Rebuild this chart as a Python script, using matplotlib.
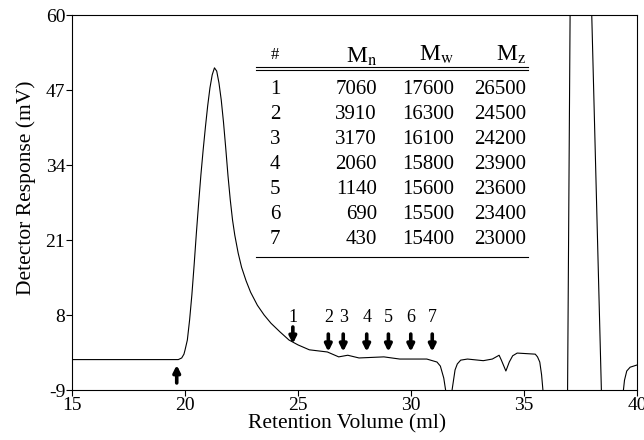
import matplotlib.pyplot as plt
import numpy as np

plt.rcParams['font.family'] = ['Liberation Serif', 'DejaVu Serif']
plt.rcParams['mathtext.fontset'] = 'stix'

# Chromatogramm
vol = [15.0, 19.0, 19.7, 19.85, 19.95, 20.0, 20.1, 20.2, 20.3, 20.4, 20.5, 20.6,
       20.7, 20.8, 20.9, 21.0, 21.1, 21.2, 21.3, 21.4, 21.5, 21.6, 21.7, 21.8,
       21.9, 22.0, 22.1, 22.2, 22.35, 22.5, 22.7, 22.9, 23.2, 23.5, 23.8, 24.2,
       24.6, 25.0, 25.5, 26.3, 26.8, 27.2, 27.7, 28.8, 29.5, 30.7, 31.15, 31.3,
       31.45, 31.55, 31.8, 31.85, 31.95, 32.05, 32.2, 32.5, 33.2, 33.6, 33.9,
       34.0, 34.2, 34.35, 34.5, 34.7, 35.5, 35.6, 35.7, 35.78, 35.85, 36.93,
       37.05, 37.97, 38.43, 39.39, 39.45, 39.55, 39.7, 40.0]
resp = [-3.4, -3.4, -3.4, -3.1, -2.4, -1.6, 0.2, 3.9, 8.5, 14.0, 19.9, 25.4,
        30.6, 35.2, 39.4, 43.3, 46.6, 49.0, 50.3, 49.7, 47.5, 44.4, 40.3, 35.5,
        30.4, 26.0, 22.3, 19.5, 16.2, 13.6, 11.1, 9.0, 6.6, 4.8, 3.3, 1.7,
        0.2, -0.7, -1.6, -2.0, -2.9, -2.6, -3.1, -2.9, -3.3, -3.3, -3.85, -4.6,
        -6.8, -9.5, -9.5, -8.1, -5.3, -4.2, -3.5, -3.3, -3.6, -3.3, -2.6,
        -3.5, -5.5, -3.85, -2.7, -2.2, -2.4, -2.9, -3.85, -6.2, -9.5, -9.5,
        65, 65, -9.5, -9.5, -7.2, -5.5, -4.8, -4.4]

# Fraktionen
frac = ['1', '2', '3', '4', '5', '6', '7']
frac_x = [24.77, 26.34, 27.0, 28.04, 29.0, 29.99, 30.94]
Mn = [7060, 3910, 3170, 2060, 1140, 690, 430]
Mw = [17600, 16300, 16100, 15800, 15600, 15500, 15400]
Mz = [26500, 24500, 24200, 23900, 23600, 23400, 23000]
start_x = 19.63

yticks = np.linspace(-9, 60, 6)
ylabels = ['-9', '8', '21', '34', '47', '60']

fig = plt.figure(figsize=(6.44, 4.40), dpi=100)
ax = fig.add_axes([0.112, 0.1136, 0.877, 0.852])
ax.plot(vol, resp, color='k', lw=0.8)

ax.set_xlim(15, 40)
ax.set_ylim(-9, 60)
ax.set_xticks([15, 20, 25, 30, 35, 40])
ax.set_yticks(yticks)
ax.set_yticklabels(ylabels)
ax.tick_params(labelsize=14, length=4, width=0.8, direction='out', pad=1)
ax.set_xlabel('Retention Volume (ml)', fontsize=15.5)
ax.set_ylabel('Detector Response (mV)', fontsize=15.5)
ax.xaxis.set_label_coords(0.487, -0.064)
ax.yaxis.set_label_coords(-0.064, 0.54)

# Pfeile
ap = dict(arrowstyle='-|>', lw=2.6, color='k', mutation_scale=10, shrinkA=0, shrinkB=0)
for i, (lab, x) in enumerate(zip(frac, frac_x)):
    if i == 0:
        top, tip = 2.6, -0.5
    else:
        top, tip = 1.3, -1.95
    ax.annotate('', xy=(x, tip), xytext=(x, top), arrowprops=ap)
    ax.text(x, 4.4, lab, ha='center', va='center', fontsize=13)
ax.annotate('', xy=(start_x, -4.4), xytext=(start_x, -7.7), arrowprops=ap)

# Tabelle
def px2y(py):
    return -9 + (390 - py) * 69 / 375

def px2x(px):
    return 15 + (px - 72) * 25 / 565

fs = 15
ax.text(px2x(275), px2y(55), '#', ha='center', va='center', fontsize=12)
ax.text(px2x(377), px2y(57), r'M$_{\rm n}$', ha='right', va='center', fontsize=fs + 2)
ax.text(px2x(454), px2y(55), r'M$_{\rm w}$', ha='right', va='center', fontsize=fs + 2)
ax.text(px2x(526), px2y(55), r'M$_{\rm z}$', ha='right', va='center', fontsize=fs + 2)
ax.plot([px2x(256), px2x(528)], [px2y(67), px2y(67)], color='k', lw=0.8)
ax.plot([px2x(256), px2x(528)], [px2y(70), px2y(70)], color='k', lw=0.8)
ax.plot([px2x(256), px2x(528)], [px2y(257), px2y(257)], color='k', lw=0.8)
for i in range(len(frac)):
    yy = px2y(89 + 25 * i)
    ax.text(px2x(275), yy, frac[i], ha='center', va='center', fontsize=fs)
    ax.text(px2x(377), yy, str(Mn[i]), ha='right', va='center', fontsize=fs)
    ax.text(px2x(454), yy, str(Mw[i]), ha='right', va='center', fontsize=fs)
    ax.text(px2x(526), yy, str(Mz[i]), ha='right', va='center', fontsize=fs)

plt.savefig('out.png', dpi=100)
